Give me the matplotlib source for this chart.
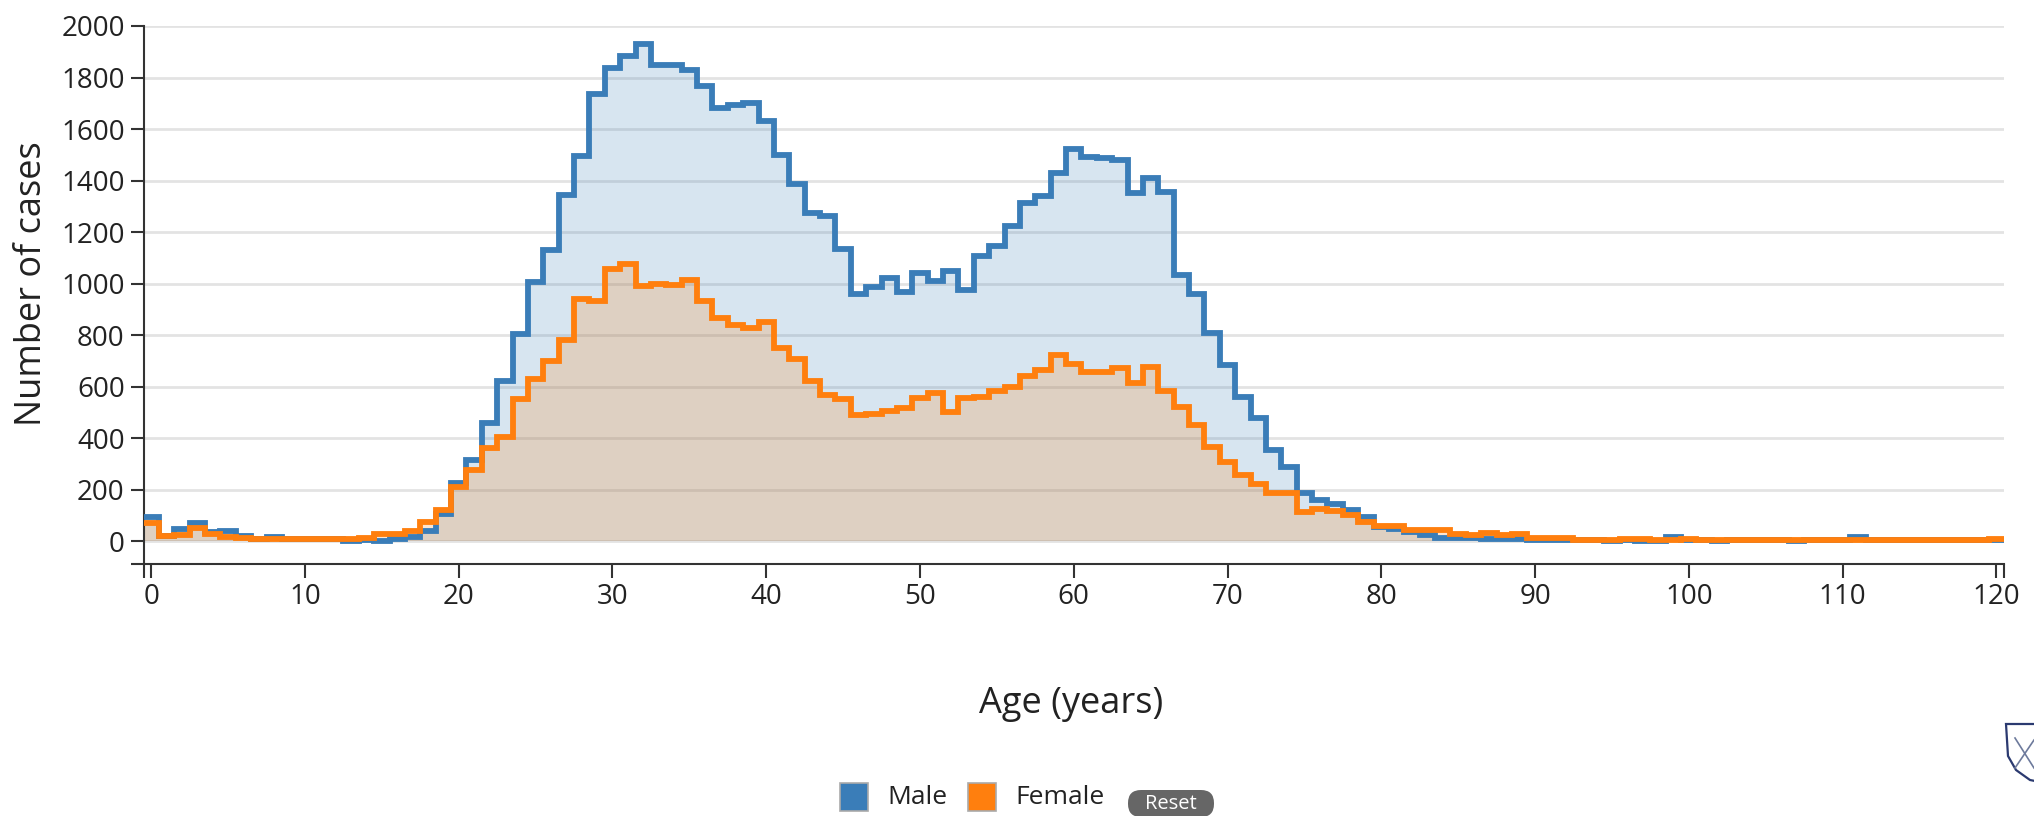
import numpy as np
import matplotlib
matplotlib.use("Agg")
import matplotlib.pyplot as plt
from matplotlib.patches import Rectangle, FancyBboxPatch, Polygon

# cases per single year of age, ages 0..120
ages = np.arange(0, 121)
male = [
    95, 20, 45, 70, 35, 38, 18, 8, 15, 8,
    7, 7, 7, 2, 5, 2, 10, 16, 38, 105,
    226, 315, 457, 620, 805, 1005, 1130, 1342, 1497, 1737,
    1836, 1884, 1930, 1850, 1850, 1828, 1768, 1680, 1694, 1701,
    1633, 1499, 1385, 1275, 1262, 1134, 958, 986, 1020, 966,
    1042, 1009, 1048, 974, 1106, 1145, 1223, 1314, 1338, 1429,
    1522, 1493, 1487, 1480, 1353, 1408, 1356, 1032, 960, 808,
    682, 561, 477, 354, 289, 185, 159, 143, 120, 94,
    55, 45, 35, 22, 13, 13, 13, 7, 7, 7,
    5, 5, 3, 3, 3, 2, 3, 0, 0, 15,
    3, 3, 0, 3, 3, 3, 3, 0, 3, 3,
    3, 15, 3, 3, 3, 3, 3, 3, 3, 3,
    5,
]
female = [
    71, 18, 22, 51, 29, 16, 13, 7, 7, 7,
    7, 7, 7, 7, 13, 26, 26, 38, 75, 120,
    210, 275, 363, 406, 550, 629, 701, 780, 941, 931,
    1056, 1075, 989, 999, 993, 1013, 931, 866, 840, 826,
    852, 751, 708, 622, 566, 552, 491, 492, 505, 516,
    555, 574, 503, 555, 561, 581, 600, 642, 665, 723,
    688, 655, 655, 671, 613, 674, 581, 519, 451, 366,
    308, 256, 222, 187, 187, 113, 124, 117, 103, 74,
    59, 59, 44, 44, 44, 29, 22, 33, 22, 29,
    13, 13, 13, 5, 5, 5, 7, 7, 3, 3,
    7, 3, 3, 3, 3, 3, 3, 3, 3, 3,
    3, 3, 3, 3, 3, 3, 3, 3, 3, 3,
    8,
]
series_names = ["Male", "Female"]
series_colors = ["#3a7db8", "#ff7f0e"]

W, H = 2034, 816
plt.rcParams["font.family"] = ["Open Sans", "DejaVu Sans"]
fig = plt.figure(figsize=(W / 100, H / 100), dpi=100)


def fx(px):
    return px / W


def fy(py):
    return 1 - py / H


ax = fig.add_axes([fx(143.5), fy(564), fx(2004 - 143.5), fy(26) - fy(564)])
edges = np.append(ages - 0.5, ages[-1] + 0.5)

for vals, col in zip([male, female], series_colors):
    ax.stairs(vals, edges, fill=True, color=col, alpha=0.2, lw=0, zorder=2)
    ax.stairs(vals, edges, baseline=None, color=col, lw=4.2,
              joinstyle="miter", zorder=3)

ax.set_xlim(-0.5, 120.5)
ax.set_ylim(-89, 2000)
ax.set_xticks(np.arange(0, 121, 10))
ax.set_yticks(np.arange(0, 2001, 200))
ax.set_xticks([-0.5, 120.5], minor=True)
ax.set_yticks([-89, 2000], minor=True)
ax.grid(axis="y", color="#e3e3e3", lw=2.0, zorder=1)
ax.set_axisbelow(True)

for s in ["top", "right"]:
    ax.spines[s].set_visible(False)
for s in ["left", "bottom"]:
    ax.spines[s].set_color("#333333")
    ax.spines[s].set_linewidth(1.5)

ax.tick_params(axis="both", which="both", direction="out", color="#333333",
               width=1.5, labelsize=20, labelcolor="#222222")
ax.tick_params(axis="y", which="both", length=9.5, pad=4)
ax.tick_params(axis="x", which="both", length=10, pad=4)

fig.text(fx(32), fy(284), "Number of cases", rotation=90, ha="center",
         va="center", fontsize=26, color="#222222")
fig.text(fx(1071), fy(704), "Age (years)", ha="center", va="center",
         fontsize=26, color="#222222")

# legend row
leg_x = [840, 968]
txt_x = [887, 1015]
for name, col, lx, tx in zip(series_names, series_colors, leg_x, txt_x):
    fig.patches.append(Rectangle((fx(lx), fy(811)), fx(28), fy(783) - fy(811),
                                 transform=fig.transFigure, facecolor=col,
                                 edgecolor="#aaaaaa", lw=1.2))
    fig.text(fx(tx), fy(798), name, ha="left", va="center", fontsize=19,
             color="#222222")

# reset button, drawn in pixel units
fig.patches.append(FancyBboxPatch((1128, H - 817), 86, 27,
                                  boxstyle="round,pad=0,rounding_size=13",
                                  transform=None, facecolor="#666666",
                                  edgecolor="none"))
fig.text(fx(1171), fy(804), "Reset", ha="center", va="center", fontsize=14.5,
         color="white")

# small shield logo at the bottom right corner
shield = [(2006, 724), (2040, 724), (2040, 782), (2030, 780), (2016, 770),
          (2008, 756)]
fig.patches.append(Polygon([(fx(a), fy(b)) for a, b in shield], closed=True,
                           transform=fig.transFigure, facecolor="white",
                           edgecolor="#2b3a70", lw=1.6))
fig.lines.append(plt.Line2D([fx(2015), fx(2034)], [fy(738), fy(768)],
                            transform=fig.transFigure, color="#6d7a9c", lw=1.2))
fig.lines.append(plt.Line2D([fx(2015), fx(2034)], [fy(768), fy(740)],
                            transform=fig.transFigure, color="#6d7a9c", lw=1.2))

fig.savefig("out.png", dpi=100)
